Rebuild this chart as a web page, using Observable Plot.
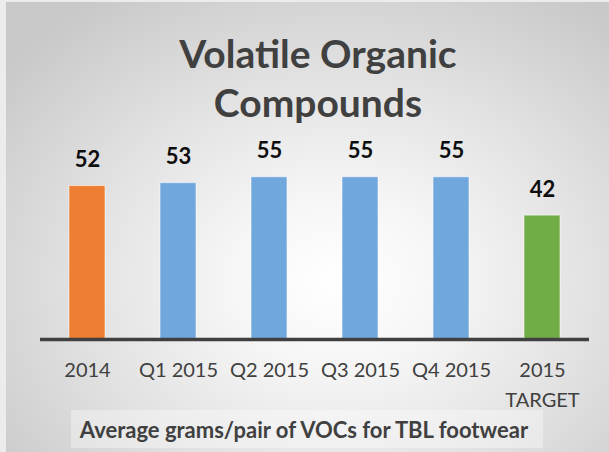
<!DOCTYPE html>
<html>
<head>
<meta charset="utf-8">
<script src="https://cdn.jsdelivr.net/npm/d3@7"></script>
<script src="https://cdn.jsdelivr.net/npm/@observablehq/plot@0.6"></script>
<style>
  html, body { margin: 0; padding: 0; background: #ececec; }
  #wrap { position: relative; width: 609px; height: 452px; overflow: hidden; }
  #bg { position: absolute; left: 6px; top: 2px; width: 603px; height: 450px;
        background: radial-gradient(ellipse 70% 75% at 55% 62%, #ffffff 0%, #f6f6f6 25%, #e2e2e2 60%, #c9c9c9 100%); }
  #chart { position: absolute; left: 0; top: 0; }
  #chart svg { background: transparent; overflow: visible; }
</style>
</head>
<body>
<div id="wrap"><div id="bg"></div><div id="chart"></div></div>
<script>
const titleLines = ["Volatile Organic", "Compounds"];
const categories = ["2014", "Q1 2015", "Q2 2015", "Q3 2015", "Q4 2015", "2015 TARGET"];
const values = [52, 53, 55, 55, 55, 42];
const barColors = ["#ED7D31", "#70A7DC", "#70A7DC", "#70A7DC", "#70A7DC", "#70AD47"];
const tickLabels = ["2014", "Q1 2015", "Q2 2015", "Q3 2015", "Q4 2015", "2015\nTARGET"];
const caption = "Average grams/pair of VOCs for TBL footwear";

const data = categories.map((c, i) => ({category: c, value: values[i], color: barColors[i], tick: tickLabels[i]}));
const tickMap = new Map(categories.map((c, i) => [c, tickLabels[i]]));

const W = 609, H = 452;
const chart = Plot.plot({
  width: W,
  height: H,
  marginLeft: 40,
  marginRight: 20,
  marginTop: 162,
  marginBottom: 113,
  style: {fontFamily: "Lato, sans-serif", background: "transparent", overflow: "visible"},
  x: {domain: categories, paddingInner: 0.607, paddingOuter: 0.3035, label: null},
  y: {domain: [0, 60], axis: null},
  marks: [
    Plot.barY(data, {x: "category", y: "value", fill: "color", stroke: "rgba(255,255,255,0.55)", strokeWidth: 1}),
    Plot.text(data, {x: "category", y: "value", text: d => String(d.value), dy: -26,
      fontSize: 22, fontWeight: "bold", fill: "#0d0d0d"}),
    Plot.ruleY([0], {stroke: "#404040", strokeWidth: 3.5}),
    Plot.axisX({tickSize: 0, tickPadding: 16, tickFormat: d => tickMap.get(d), fontSize: 20,
      lineHeight: 1.5, fill: "#404040", label: null})
  ]
});
document.getElementById("chart").appendChild(chart);

const svg = d3.select(chart);
titleLines.forEach((t, i) => {
  svg.append("text")
    .attr("x", 318).attr("y", 68 + i * 49)
    .attr("text-anchor", "middle")
    .attr("font-family", "Lato, sans-serif")
    .attr("font-weight", "bold")
    .attr("font-size", 39)
    .attr("fill", "#404040")
    .text(t);
});
svg.append("rect")
  .attr("x", 71).attr("y", 410).attr("width", 472).attr("height", 38)
  .attr("fill", "#ffffff").attr("fill-opacity", 0.35);
svg.append("text")
  .attr("x", 304).attr("y", 438)
  .attr("text-anchor", "middle")
  .attr("font-family", "Lato, sans-serif")
  .attr("font-weight", "bold")
  .attr("font-size", 22)
  .attr("fill", "#404040")
  .text(caption);
</script>
</body>
</html>
